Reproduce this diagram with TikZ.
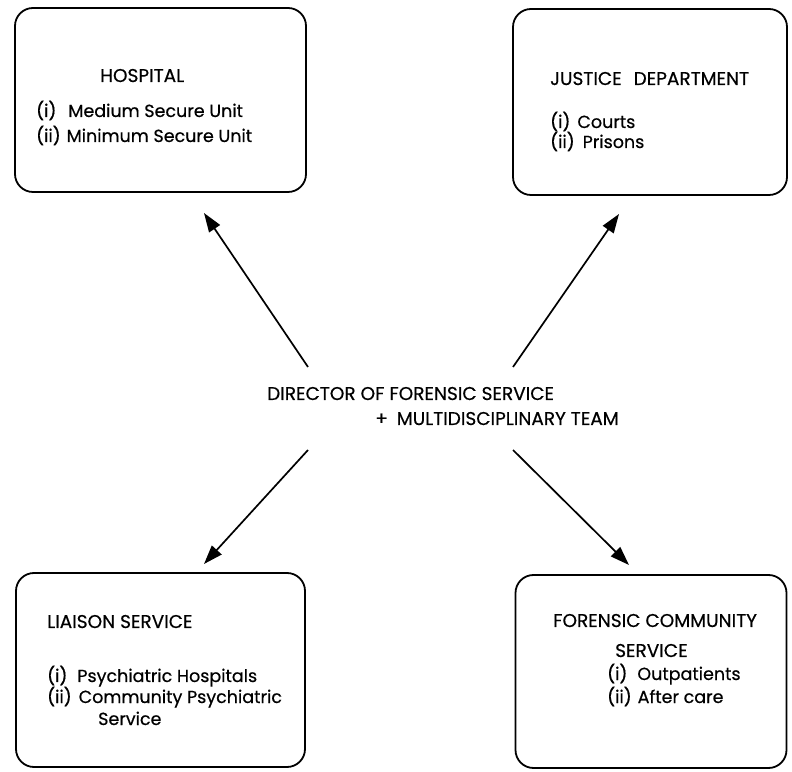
\documentclass[tikz,border=0pt]{standalone}
\usepackage{fontspec}
\setmainfont{Poppins}[FakeBold=0.5]
\usetikzlibrary{arrows.meta}
\begin{document}
\begin{tikzpicture}[x=1pt,y=1pt,
  box/.style={draw, line width=1.8pt, rounded corners=18pt, inner sep=0pt},
  txt/.style={anchor=base west, inner sep=0pt, font=\fontsize{18.5}{22}\selectfont},
  itm/.style={anchor=base west, inner sep=0pt, font=\fontsize{17.5}{21}\selectfont},
  conn/.style={line width=1.7pt, -{Triangle[length=19pt,width=13pt]}}]
\useasboundingbox (0,0) rectangle (792,771);
% boxes
\node[box, minimum width=291pt, minimum height=184pt] (hosp) at (160.5,671) {};
\node[box, minimum width=274pt, minimum height=186pt] (just) at (650,669) {};
\node[box, minimum width=289pt, minimum height=194pt] (liai) at (160.5,101) {};
\node[box, minimum width=271pt, minimum height=193pt] (fore) at (651,99.5) {};
% hospital text
\node[txt] (h0) at (100,689) {HOSPITAL};
\node[itm] (h1) at (36,654) {(i)\hspace{12pt}Medium Secure Unit};
\node[itm] (h2) at (36,629) {(ii)\hspace{6pt}Minimum Secure Unit};
% justice text
\node[txt] (j0) at (550,686) {JUSTICE\hspace{12pt}DEPARTMENT};
\node[itm] (j1) at (550,643) {(i)\hspace{7pt}Courts};
\node[itm] (j2) at (550,623) {(ii)\hspace{8pt}Prisons};
% liaison text
\node[txt] (l0) at (47,143) {LIAISON SERVICE};
\node[itm] (l1) at (47,89) {(i)\hspace{10pt}Psychiatric Hospitals};
\node[itm] (l2) at (47,68) {(ii)\hspace{7pt}Community Psychiatric};
\node[itm] (l3) at (98,46) {Service};
% forensic text
\node[txt] (f0) at (553,144) {FORENSIC COMMUNITY};
\node[txt] (f1) at (615,114) {SERVICE};
\node[itm] (f2) at (607,91) {(i)\hspace{10pt}Outpatients};
\node[itm] (f3) at (607,68) {(ii)\hspace{6pt}After care};
% centre
\node[txt] (d0) at (267,371) {DIRECTOR OF FORENSIC SERVICE};
\node[txt] (d1) at (375,346) {+\hspace{9pt}MULTIDISCIPLINARY TEAM};
% connectors
\coordinate (s1) at (308,404);
\coordinate (s2) at (513,404);
\coordinate (s3) at (308,321);
\coordinate (s4) at (513,321);
\coordinate (t1) at (204,558);
\coordinate (t2) at (619,557);
\coordinate (t3) at (204,207);
\coordinate (t4) at (629,206);
\draw[conn] (s1) -- (t1);
\draw[conn] (s2) -- (t2);
\draw[conn] (s3) -- (t3);
\draw[conn] (s4) -- (t4);
\end{tikzpicture}
\end{document}
